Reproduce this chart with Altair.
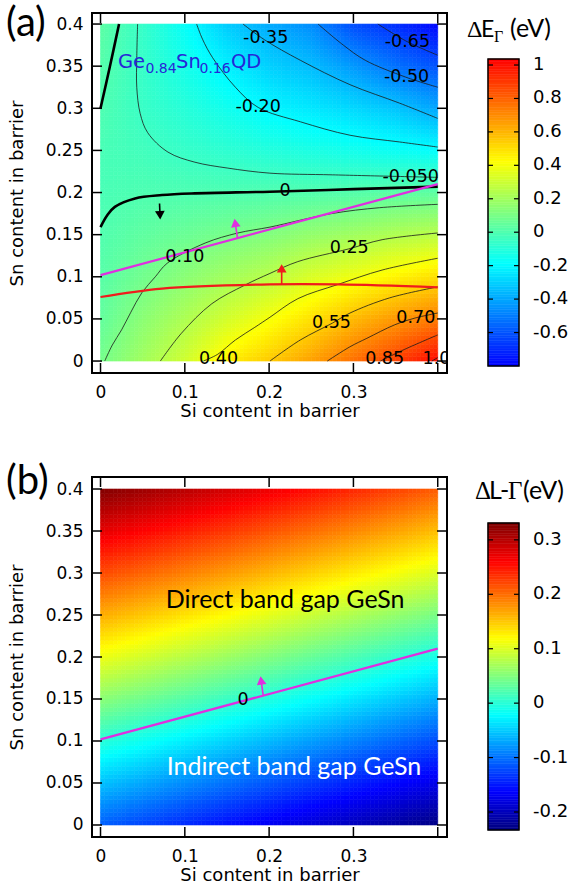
import numpy as np
import pandas as pd
import altair as alt

# ---------------- axes ----------------
SI_TICKS = [0, 0.1, 0.2, 0.3]
SI_FRAME_TICKS = [0, 0.1, 0.2, 0.3, 0.4]
SN_TICKS = [0, 0.05, 0.1, 0.15, 0.2, 0.25, 0.3, 0.35, 0.4]

# ---------------- panel (a): ΔEΓ (eV) on a 0.05 composition grid ----------------
# rows: Sn = 0 ... 0.4, columns: Si = 0 ... 0.4
DEG_STEP = 0.05
DEG_GRID = [
    [0.09, 0.20, 0.31, 0.46, 0.55, 0.65, 0.77, 0.88, 1.02],
    [0.045, 0.145, 0.228, 0.318, 0.406, 0.495, 0.59, 0.67, 0.74],
    [0.02, 0.084, 0.143, 0.203, 0.256, 0.335, 0.39, 0.45, 0.50],
    [0.003, 0.039, 0.066, 0.096, 0.124, 0.167, 0.198, 0.235, 0.26],
    [-0.015, -0.003, -0.002, 0.0, 0.002, 0.006, 0.012, 0.03, 0.035],
    [-0.015, -0.03, -0.058, -0.079, -0.105, -0.122, -0.145, -0.165, -0.185],
    [0.0, -0.053, -0.097, -0.148, -0.205, -0.242, -0.28, -0.325, -0.40],
    [0.015, -0.056, -0.136, -0.22, -0.298, -0.347, -0.43, -0.526, -0.60],
    [0.03, -0.058, -0.175, -0.31, -0.39, -0.46, -0.617, -0.69, -0.79],
]

# ΔEΓ iso-lines as (Si, Sn) pairs
ISO_M065_SI = [0.329, 0.364, 0.400]
ISO_M065_SN = [0.400, 0.379, 0.363]
ISO_M050_SI = [0.258, 0.288, 0.314, 0.362, 0.400]
ISO_M050_SN = [0.400, 0.375, 0.357, 0.337, 0.325]
ISO_M035_SI = [0.169, 0.195, 0.237, 0.296, 0.355, 0.400]
ISO_M035_SN = [0.400, 0.381, 0.357, 0.328, 0.306, 0.288]
ISO_M020_SI = [0.114, 0.121, 0.133, 0.160, 0.187, 0.237, 0.296, 0.355, 0.400]
ISO_M020_SN = [0.400, 0.382, 0.360, 0.325, 0.301, 0.284, 0.268, 0.260, 0.254]
ISO_M005_SI = [0.044, 0.043, 0.043, 0.047, 0.056, 0.080, 0.112, 0.151, 0.201, 0.275, 0.400]
ISO_M005_SN = [0.400, 0.360, 0.325, 0.294, 0.271, 0.248, 0.236, 0.229, 0.223, 0.221, 0.218]
ISO_P010_SI = [0.005, 0.014, 0.025, 0.036, 0.049, 0.065, 0.079, 0.124, 0.163, 0.201, 0.274, 0.331, 0.400]
ISO_P010_SN = [0.000, 0.019, 0.037, 0.058, 0.081, 0.100, 0.116, 0.140, 0.152, 0.159, 0.175, 0.182, 0.186]
ISO_P025_SI = [0.071, 0.096, 0.132, 0.171, 0.201, 0.234, 0.294, 0.334, 0.400]
ISO_P025_SN = [0.000, 0.033, 0.068, 0.090, 0.104, 0.118, 0.133, 0.144, 0.152]
ISO_P040_SI = [0.122, 0.139, 0.160, 0.183, 0.201, 0.234, 0.282, 0.334, 0.400]
ISO_P040_SN = [0.000, 0.008, 0.025, 0.040, 0.052, 0.074, 0.091, 0.108, 0.122]
ISO_P055_SI = [0.201, 0.237, 0.275, 0.296, 0.343, 0.400]
ISO_P055_SN = [0.000, 0.025, 0.045, 0.057, 0.075, 0.088]
ISO_P070_SI = [0.269, 0.296, 0.316, 0.349, 0.373, 0.400]
ISO_P070_SN = [0.000, 0.017, 0.027, 0.043, 0.051, 0.057]
ISO_P085_SI = [0.332, 0.361, 0.400]
ISO_P085_SN = [0.000, 0.014, 0.031]
ISO_P100_SI = [0.393, 0.400]
ISO_P100_SN = [0.000, 0.004]

# ΔEΓ = 0 (thick)
ZERO_SI = [0.000, 0.008, 0.017, 0.041, 0.073, 0.112, 0.201, 0.300, 0.400]
ZERO_SN = [0.159, 0.173, 0.183, 0.193, 0.197, 0.199, 0.201, 0.204, 0.207]
ZERO_TOP_SI = [0.000, 0.011, 0.022]
ZERO_TOP_SN = [0.300, 0.349, 0.400]
# direct / indirect boundary of the barrier (ΔL-Γ = 0)
DIRECT_SI = [0.0, 0.4]
DIRECT_SN = [0.102, 0.210]
# red boundary
RED_SI = [0.000, 0.073, 0.201, 0.282, 0.400]
RED_SN = [0.076, 0.086, 0.091, 0.091, 0.0875]

LEVEL_TEXT = ["-0.65", "-0.50", "-0.35", "-0.20", "-0.050", "0", "0.10",
              "0.25", "0.40", "0.55", "0.70", "0.85", "1.0"]
LEVEL_SI = [0.364, 0.363, 0.196, 0.187, 0.368, 0.219, 0.100, 0.295, 0.140,
            0.274, 0.374, 0.337, 0.3985]
LEVEL_SN = [0.379, 0.337, 0.384, 0.302, 0.219, 0.202, 0.124, 0.134, 0.003,
            0.045, 0.051, 0.003, 0.003]

# arrows: tail (Si, Sn) -> head (Si, Sn)
ARROW_A_SI0 = [0.0700, 0.1625, 0.2149]
ARROW_A_SN0 = [0.1870, 0.1460, 0.0910]
ARROW_A_SI1 = [0.0706, 0.1598, 0.2149]
ARROW_A_SN1 = [0.1730, 0.1640, 0.1100]

# ---------------- panel (b): ΔL-Γ (eV) on a 0.1 composition grid ----------------
DLG_STEP = 0.1
DLG_GRID = [
    [-0.11, -0.14, -0.17, -0.20, -0.23],
    [0.00, -0.03, -0.06, -0.09, -0.12],
    [0.11, 0.08, 0.05, 0.02, -0.01],
    [0.22, 0.19, 0.16, 0.13, 0.10],
    [0.33, 0.30, 0.27, 0.24, 0.21],
]
ARROW_B_SI0 = [0.1930]
ARROW_B_SN0 = [0.1540]
ARROW_B_SI1 = [0.1905]
ARROW_B_SN1 = [0.1720]

# colour bars
CB_BAR_A = [-0.8, 1.036]
CB_TICKS_A = [1, 0.8, 0.6, 0.4, 0.2, 0, -0.2, -0.4, -0.6]
CB_LABELS_A = ["1", "0.8", "0.6", "0.4", "0.2", "0", "-0.2", "-0.4", "-0.6"]
CB_BAR_B = [-0.233, 0.331]
CB_TICKS_B = [0.3, 0.2, 0.1, 0, -0.1, -0.2]
CB_LABELS_B = ["0.3", "0.2", "0.1", "0", "-0.1", "-0.2"]

# ---------------- styling ----------------
MAGENTA = "#e02ee0"
RED = "#f01c1c"
BLUE_TXT = "#2626d8"
SANS = "DejaVu Sans"
HUMAN = "Lato"
SERIF = "Liberation Serif"

W, H = 355, 360
CB_W = 129
TICK = 10
SI_DOMAIN = [-0.0101, 0.4110]
SN_DOMAIN_A = [-0.0142, 0.4131]
SN_DOMAIN_B = [-0.0143, 0.4143]
CB_DOMAIN_A = [-0.842, 1.311]
CB_DOMAIN_B = [-0.2459, 0.4155]
CB_X0, CB_X1 = 40, 71

JET_A = alt.Scale(domain=[-0.8, -0.188, 0.424, 1.036],
                  range=["#0000ff", "#00ffff", "#ffff00", "#ff0000"],
                  interpolate="rgb", clamp=True)
JET_B = alt.Scale(domain=[-0.233, -0.1625, -0.0215, 0.1195, 0.2605, 0.331],
                  range=["#00007f", "#0000ff", "#00ffff", "#ffff00", "#ff0000", "#7f0000"],
                  interpolate="rgb", clamp=True)

X_AXIS = alt.Axis(values=SI_TICKS, format="~g", labelPadding=11, titlePadding=2,
                  labelFlush=False)
Y_AXIS = alt.Axis(values=SN_TICKS, format="~g", labelPadding=9, titlePadding=19,
                  labelFlush=False)

ONE = pd.DataFrame({"k": [0]})


def xenc(field):
    return alt.X(field, type="quantitative", title="Si content in barrier",
                 scale=alt.Scale(domain=SI_DOMAIN, nice=False, zero=False), axis=X_AXIS)


def yenc(field, dom):
    return alt.Y(field, type="quantitative", title="Sn content in barrier",
                 scale=alt.Scale(domain=dom, nice=False, zero=False), axis=Y_AXIS)


def shaded_cells(grid, step, n=80):
    """Fill the 0..0.4 square with small cells shaded bilinearly from the grid."""
    g = np.asarray(grid, float)
    edges = np.linspace(0.0, 0.4, n + 1)
    mid = 0.5 * (edges[:-1] + edges[1:])
    pos = mid / step
    k = np.clip(np.floor(pos).astype(int), 0, g.shape[0] - 2)
    t = pos - k
    kx, ky = np.meshgrid(k, k)
    tx, ty = np.meshgrid(t, t)
    v = (g[ky, kx] * (1 - tx) * (1 - ty) + g[ky, kx + 1] * tx * (1 - ty)
         + g[ky + 1, kx] * (1 - tx) * ty + g[ky + 1, kx + 1] * tx * ty)
    x0, y0 = np.meshgrid(edges[:-1], edges[:-1])
    x1, y1 = np.meshgrid(edges[1:], edges[1:])
    return pd.DataFrame({"x": x0.ravel(), "xe": x1.ravel(), "y": y0.ravel(),
                         "ye": y1.ravel(), "v": np.round(v.ravel(), 4)})


def heat_layer(grid, step, dom, scale):
    return alt.Chart(shaded_cells(grid, step)).mark_rect(strokeWidth=0.6).encode(
        x=xenc("x"), x2="xe", y=yenc("y", dom), y2="ye",
        color=alt.Color("v:Q", scale=scale, legend=None),
        stroke=alt.Stroke("v:Q", scale=scale, legend=None),
    )


def curve_layer(curves, dom, color, width):
    rows = []
    for cid, (si, sn) in enumerate(curves):
        for i, (a, b) in enumerate(zip(si, sn)):
            rows.append({"id": cid, "i": i, "x": a, "y": b})
    return alt.Chart(pd.DataFrame(rows)).mark_line(
        color=color, strokeWidth=width, interpolate="catmull-rom", clip=True
    ).encode(x=xenc("x"), y=yenc("y", dom), detail="id:N", order="i:Q")


def arrow_layers(si0, sn0, si1, sn1, colors, dom):
    kx = W / (SI_DOMAIN[1] - SI_DOMAIN[0])
    ky = H / (dom[1] - dom[0])
    out = []
    for a0, b0, a1, b1, c in zip(si0, sn0, si1, sn1, colors):
        ang = float(np.degrees(np.arctan2((a1 - a0) * kx, (b1 - b0) * ky)) % 360)
        d = pd.DataFrame({"x": [a0], "y": [b0], "xe": [a1], "ye": [b1]})
        out.append(alt.Chart(d).mark_rule(color=c, strokeWidth=1.6).encode(
            x=xenc("x"), y=yenc("y", dom), x2="xe", y2="ye"))
        out.append(alt.Chart(d).mark_point(shape="triangle-up", filled=True, size=95,
                                           color=c, opacity=1, angle=ang).encode(
            x=xenc("xe"), y=yenc("ye", dom)))
    return out


def frame_layers(dom):
    xt = pd.DataFrame({"x": SI_FRAME_TICKS})
    yt = pd.DataFrame({"y": SN_TICKS})
    rule = dict(color="black", strokeWidth=1.5)
    return [
        alt.Chart(xt).mark_rule(**rule).encode(x=xenc("x"), y=alt.value(H - TICK), y2=alt.value(H)),
        alt.Chart(xt).mark_rule(**rule).encode(x=xenc("x"), y=alt.value(0), y2=alt.value(TICK)),
        alt.Chart(yt).mark_rule(**rule).encode(y=yenc("y", dom), x=alt.value(0), x2=alt.value(TICK)),
        alt.Chart(yt).mark_rule(**rule).encode(y=yenc("y", dom), x=alt.value(W - TICK), x2=alt.value(W)),
        alt.Chart(ONE).mark_rect(fill="transparent", stroke="black", strokeWidth=2).encode(
            x=alt.value(0), x2=alt.value(W), y=alt.value(0), y2=alt.value(H)),
    ]


def piece(txt, px, py, size, font, color="black", align="left", baseline="alphabetic"):
    return alt.Chart(ONE).mark_text(text=txt, font=font, fontSize=size, color=color,
                                    align=align, baseline=baseline).encode(
        x=alt.value(px), y=alt.value(py))


def colorbar(dom, bar, scale, ticks, labels, title):
    lv = np.linspace(bar[0], bar[1], 121)
    strip = pd.DataFrame({"lo": lv[:-1], "hi": lv[1:], "v": 0.5 * (lv[:-1] + lv[1:])})
    ys = alt.Scale(domain=dom, nice=False, zero=False)
    yb = alt.Y("lo:Q", scale=ys, axis=None)
    tdf = pd.DataFrame({"lo": ticks, "t": labels})
    layers = [
        alt.Chart(strip).mark_rect(strokeWidth=0.5).encode(
            y=yb, y2="hi", x=alt.value(CB_X0), x2=alt.value(CB_X1),
            color=alt.Color("v:Q", scale=scale, legend=None),
            stroke=alt.Stroke("v:Q", scale=scale, legend=None)),
        alt.Chart(pd.DataFrame({"lo": [bar[0]], "hi": [bar[1]]})).mark_rect(
            fill="transparent", stroke="black", strokeWidth=1.5).encode(
            y=yb, y2="hi", x=alt.value(CB_X0), x2=alt.value(CB_X1)),
        alt.Chart(tdf).mark_rule(color="black", strokeWidth=1.2).encode(
            y=yb, x=alt.value(CB_X0), x2=alt.value(CB_X0 + 5)),
        alt.Chart(tdf).mark_rule(color="black", strokeWidth=1.2).encode(
            y=yb, x=alt.value(CB_X1 - 5), x2=alt.value(CB_X1)),
        alt.Chart(tdf).mark_text(font=SANS, fontSize=18, align="left", baseline="middle",
                                 color="black").encode(y=yb, x=alt.value(85), text="t:N"),
    ]
    return alt.layer(*layers, *title).properties(width=CB_W, height=H)


# ---------------- panel (a) ----------------
thin_a = [(ISO_M065_SI, ISO_M065_SN), (ISO_M050_SI, ISO_M050_SN), (ISO_M035_SI, ISO_M035_SN),
          (ISO_M020_SI, ISO_M020_SN), (ISO_M005_SI, ISO_M005_SN), (ISO_P010_SI, ISO_P010_SN),
          (ISO_P025_SI, ISO_P025_SN), (ISO_P040_SI, ISO_P040_SN), (ISO_P055_SI, ISO_P055_SN),
          (ISO_P070_SI, ISO_P070_SN), (ISO_P085_SI, ISO_P085_SN), (ISO_P100_SI, ISO_P100_SN)]

level_df = pd.DataFrame({"x": LEVEL_SI, "y": LEVEL_SN, "t": LEVEL_TEXT})
levels_a = alt.Chart(level_df).mark_text(font=SANS, fontSize=17.5, color="black", clip=True).encode(
    x=xenc("x"), y=yenc("y", SN_DOMAIN_A), text="t:N")

qd_label = [
    piece("Ge", 26, 55.3, 19.5, SANS, BLUE_TXT),
    piece("0.84", 53.5, 60.3, 14, SANS, BLUE_TXT),
    piece("Sn", 84, 55.3, 19.5, SANS, BLUE_TXT),
    piece("0.16", 107.5, 60.3, 14, SANS, BLUE_TXT),
    piece("QD", 139, 55.3, 19.5, SANS, BLUE_TXT),
]

main_a = alt.layer(
    heat_layer(DEG_GRID, DEG_STEP, SN_DOMAIN_A, JET_A),
    curve_layer(thin_a, SN_DOMAIN_A, "#1a1a1a", 0.8),
    curve_layer([(ZERO_SI, ZERO_SN), (ZERO_TOP_SI, ZERO_TOP_SN)], SN_DOMAIN_A, "black", 2.6),
    curve_layer([(DIRECT_SI, DIRECT_SN)], SN_DOMAIN_A, MAGENTA, 2.2),
    curve_layer([(RED_SI, RED_SN)], SN_DOMAIN_A, RED, 2.2),
    *arrow_layers(ARROW_A_SI0, ARROW_A_SN0, ARROW_A_SI1, ARROW_A_SN1,
                  ["black", MAGENTA, RED], SN_DOMAIN_A),
    levels_a,
    *qd_label,
    *frame_layers(SN_DOMAIN_A),
    piece("(a)", -86, -9, 40, HUMAN, baseline="top"),
).properties(width=W, height=H)

cbar_a = colorbar(CB_DOMAIN_A, CB_BAR_A, JET_A, CB_TICKS_A, CB_LABELS_A, [
    piece("\u0394", 19, 23.7, 24, SERIF),
    piece("E", 33, 23.7, 23, HUMAN),
    piece("\u0393", 46, 28.7, 16, SERIF),
    piece("(eV)", 62, 23.7, 25, HUMAN),
])

# ---------------- panel (b) ----------------
zero_b = alt.Chart(pd.DataFrame({"x": [0.169], "y": [0.149], "t": ["0"]})).mark_text(
    font=SANS, fontSize=17.5, color="black").encode(
    x=xenc("x"), y=yenc("y", SN_DOMAIN_B), text="t:N")

regions_b = alt.Chart(pd.DataFrame({
    "x": [0.219, 0.2295], "y": [0.268, 0.0694],
    "t": ["Direct band gap GeSn", "Indirect band gap GeSn"],
    "c": ["black", "white"]})).mark_text(font=HUMAN, fontSize=25, baseline="middle").encode(
    x=xenc("x"), y=yenc("y", SN_DOMAIN_B), text="t:N",
    color=alt.Color("c:N", scale=None))

main_b = alt.layer(
    heat_layer(DLG_GRID, DLG_STEP, SN_DOMAIN_B, JET_B),
    curve_layer([(DIRECT_SI, DIRECT_SN)], SN_DOMAIN_B, MAGENTA, 2.2),
    *arrow_layers(ARROW_B_SI0, ARROW_B_SN0, ARROW_B_SI1, ARROW_B_SN1, [MAGENTA], SN_DOMAIN_B),
    zero_b,
    regions_b,
    *frame_layers(SN_DOMAIN_B),
    piece("(b)", -86, -15, 40, HUMAN, baseline="top"),
).properties(width=W, height=H)

cbar_b = colorbar(CB_DOMAIN_B, CB_BAR_B, JET_B, CB_TICKS_B, CB_LABELS_B, [
    piece("\u0394", 27, 22, 25, SERIF),
    piece("L-", 41, 22, 25, HUMAN),
    piece("\u0393", 60, 22, 25, SERIF),
    piece("(eV)", 75, 22, 25, HUMAN),
])

indep = dict(x="independent", y="independent", color="independent", stroke="independent")

chart = (
    alt.concat(main_a, cbar_a, main_b, cbar_b, columns=2, bounds="flush",
               spacing=alt.RowColnumber(row=104, column=1))
    .resolve_scale(**indep)
    .properties(padding={"left": 6, "top": 4, "right": 0, "bottom": 0}, background="white")
    .configure_view(strokeWidth=0)
    .configure_axis(grid=False, domain=False, ticks=False, tickSize=0,
                    labelFont=SANS, labelFontSize=17, labelColor="black",
                    titleFont=SANS, titleFontSize=18, titleFontWeight="normal",
                    titleColor="black")
)

chart.save("out.html", embed_options={"renderer": "svg", "actions": False})
